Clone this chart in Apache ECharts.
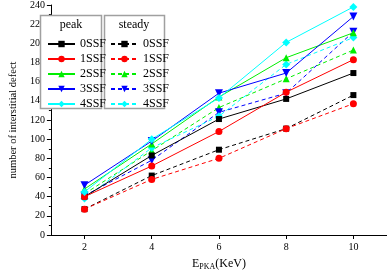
<!DOCTYPE html>
<html><head><meta charset="utf-8">
<script src="https://cdn.jsdelivr.net/npm/echarts@6/dist/echarts.min.js"></script>
<style>html,body{margin:0;padding:0;background:#fff}#c{width:387px;height:276px}</style>
</head><body><div id="c"></div>
<script>
const energies = [2, 4, 6, 8, 10];
const xTicks = [2, 4, 6, 8, 10];
const ssfNames = ['0SSF', '1SSF', '2SSF', '3SSF', '4SSF'];
const peak0 = [40, 83, 121, 142, 169];
const peak1 = [40, 72, 108, 149, 183];
const peak2 = [48, 95, 144, 185, 211];
const peak3 = [52, 98, 148, 169, 228];
const peak4 = [45, 100, 143, 201, 238];
const steady0 = [27, 62, 89, 111, 146];
const steady1 = [27, 58, 80, 111, 137];
const steady2 = [43, 88, 133, 163, 193];
const steady3 = [41, 78, 128, 148, 212];
const steady4 = [38, 91, 124, 178, 206];

const colors = ['#000000', '#ff0000', '#00ee00', '#0000ff', '#00ffff'];
const symbols = ['rect', 'circle', 'triangle', 'path://M0,0 L10,0 L5,9 Z', 'diamond'];
const sizes = [6, 7, 7, 8, 8];
const peakData = [peak0, peak1, peak2, peak3, peak4];
const steadyData = [steady0, steady1, steady2, steady3, steady4];
const font = 'Liberation Serif';

function mk(prefix, vals, i, dashed) {
  return {
    name: prefix + ' ' + ssfNames[i],
    type: 'line',
    data: energies.map((e, k) => [e, vals[k]]),
    symbol: symbols[i],
    symbolSize: sizes[i],
    showSymbol: true,
    itemStyle: { color: colors[i] },
    lineStyle: { color: colors[i], width: 1, type: dashed ? [4, 3] : 'solid' },
    emphasis: { disabled: true },
    animation: false,
    z: dashed ? 2 : 3
  };
}
const series = [];
for (let i = 0; i < 5; i++) series.push(mk('steady', steadyData[i], i, true));
for (let i = 0; i < 5; i++) series.push(mk('peak', peakData[i], i, false));

const legendBase = {
  orient: 'vertical', top: 32, itemGap: 1, itemWidth: 27, itemHeight: 8,
  textStyle: { fontFamily: font, fontSize: 12, color: '#000', lineHeight: 14 },
  formatter: n => n.split(' ')[1],
  selectedMode: false
};

const chart = echarts.init(document.getElementById('c'), null, { renderer: 'canvas' });
chart.setOption({
  animation: false,
  grid: { left: 36, right: 0, top: 5, bottom: 31, containLabel: false },
  xAxis: {
    type: 'value', min: 1, max: 11,
    name: '{a|E}{b|PKA}{a|(KeV)}', nameLocation: 'middle', nameGap: 21,
    nameTextStyle: {
      rich: {
        a: { fontFamily: font, fontSize: 12, color: '#000' },
        b: { fontFamily: font, fontSize: 8, color: '#000', verticalAlign: 'bottom', padding: [7, 0, 0, 0] }
      }
    },
    axisLine: { lineStyle: { color: '#000', width: 1 } },
    axisTick: { show: true, inside: false, length: 4, customValues: xTicks, lineStyle: { color: '#000' } },
    axisLabel: { customValues: xTicks, fontFamily: font, fontSize: 10, color: '#000', margin: 7 },
    splitLine: { show: false }
  },
  yAxis: {
    type: 'value', min: 0, max: 240, interval: 20,
    name: 'number of interstitial defect', nameLocation: 'middle', nameGap: 23,
    nameTextStyle: { fontFamily: font, fontSize: 10.5, color: '#000' },
    axisLine: { show: true, lineStyle: { color: '#000', width: 1 } },
    axisTick: { show: true, inside: false, length: 4, lineStyle: { color: '#000' } },
    minorTick: { show: true, splitNumber: 2, length: 2, lineStyle: { color: '#000' } },
    axisLabel: { fontFamily: font, fontSize: 10, color: '#000', margin: 6 },
    splitLine: { show: false }
  },
  legend: [
    Object.assign({}, legendBase, { left: 42, data: ssfNames.map(n => 'peak ' + n) }),
    Object.assign({}, legendBase, { left: 105, data: ssfNames.map(n => 'steady ' + n) })
  ],
  graphic: [
    { type: 'rect', shape: { x: 40.5, y: 15.5, width: 61, height: 93 }, style: { fill: '#fff', stroke: '#a0a0a0', lineWidth: 1.5 }, z: 1 },
    { type: 'rect', shape: { x: 104.5, y: 15.5, width: 60, height: 93 }, style: { fill: '#fff', stroke: '#a0a0a0', lineWidth: 1.5 }, z: 1 },
    { type: 'text', x: 71, y: 25, style: { text: 'peak', font: '12px "Liberation Serif"', fill: '#000', align: 'center', verticalAlign: 'middle' }, z: 2 },
    { type: 'text', x: 134, y: 25, style: { text: 'steady', font: '12px "Liberation Serif"', fill: '#000', align: 'center', verticalAlign: 'middle' }, z: 2 }
  ],
  series: series
});
</script></body></html>
